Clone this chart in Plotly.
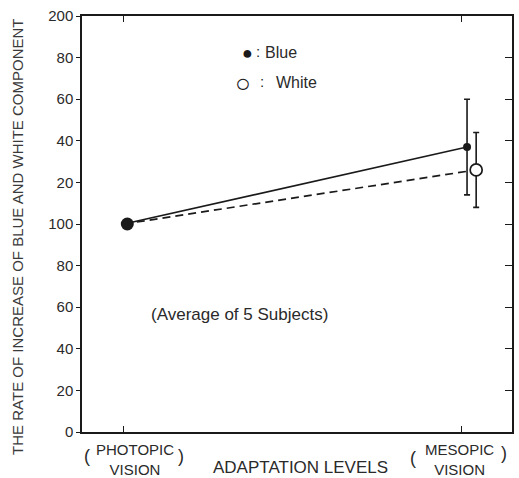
import plotly.graph_objects as go

# ---- data ----
levels = ["PHOTOPIC", "MESOPIC"]
level_pos = [1, 2]
blue_vals = [100, 137]
blue_err = [0, 23]
white_vals = [100, 126]
white_err = [0, 18]
y_tickvals = [0, 20, 40, 60, 80, 100, 120, 140, 160, 180, 200]
y_ticktext = ["0", "20", "40", "60", "80", "100", "20", "40", "60", "80", "200"]

INK = "#1a1a1a"
TXT = "#2a2a2a"
FONT = "Liberation Sans"

# small horizontal offsets so the two mesopic points don't overlap
blue_x = [level_pos[0], level_pos[1] + 0.015]
white_x = [level_pos[0], level_pos[1] + 0.042]

fig = go.Figure()

fig.add_trace(go.Scatter(
    x=white_x, y=white_vals, mode="lines",
    line=dict(color=INK, width=1.7, dash="8px,5px"), showlegend=False,
))
fig.add_trace(go.Scatter(
    x=blue_x, y=blue_vals, mode="lines",
    line=dict(color=INK, width=1.7), showlegend=False,
))
fig.add_trace(go.Scatter(
    x=blue_x[1:], y=blue_vals[1:], mode="markers",
    marker=dict(color=INK, size=8),
    error_y=dict(type="data", array=blue_err[1:], color=INK, thickness=1.6, width=3),
    showlegend=False,
))
fig.add_trace(go.Scatter(
    x=white_x[1:], y=white_vals[1:], mode="markers",
    marker=dict(color="white", size=12, line=dict(color=INK, width=1.7)),
    error_y=dict(type="data", array=white_err[1:], color=INK, thickness=1.6, width=3),
    showlegend=False,
))
fig.add_trace(go.Scatter(
    x=[level_pos[0] + 0.01], y=[blue_vals[0]], mode="markers",
    marker=dict(color=INK, size=13), showlegend=False,
))
# invisible trace for the right-side axis
fig.add_trace(go.Scatter(
    x=[level_pos[0]], y=[blue_vals[0]], yaxis="y2", mode="markers",
    marker=dict(opacity=0), showlegend=False, hoverinfo="skip",
))

fig.update_layout(
    width=519, height=478,
    margin=dict(l=82, r=7, t=12, b=46),
    paper_bgcolor="white", plot_bgcolor="white",
    font=dict(family=FONT, color=TXT, size=15),
    xaxis=dict(
        range=[0.876, 2.148], tickvals=level_pos, showticklabels=False,
        ticks="inside", ticklen=6, tickwidth=1.3, tickcolor=INK,
        showline=True, linecolor=INK, linewidth=1.5, mirror="ticks",
        showgrid=False, zeroline=False,
    ),
    yaxis=dict(
        range=[0, 200], tickvals=y_tickvals, ticktext=y_ticktext,
        ticks="outside", ticklen=4, tickwidth=1.3, tickcolor=INK,
        showline=True, linecolor=INK, linewidth=1.5,
        showgrid=False, zeroline=False, tickfont=dict(size=15, color=TXT),
    ),
    yaxis2=dict(
        range=[0, 200], tickvals=y_tickvals, overlaying="y", side="right",
        ticks="inside", ticklen=7, tickwidth=1.3, tickcolor=INK,
        showline=True, linecolor=INK, linewidth=1.5,
        showticklabels=False, showgrid=False, zeroline=False,
    ),
)

ann = []
# y-axis title
ann.append(dict(x=0, y=0.469, xref="paper", yref="paper", xanchor="center",
                yanchor="middle", xshift=-64, textangle=-90,
                text="THE RATE OF INCREASE OF BLUE AND WHITE COMPONENT",
                showarrow=False, font=dict(size=15, color="#3a3a3a")))
# x category labels
shifts = [11, -2]
for xv, name, sh in zip(level_pos, levels, shifts):
    ann.append(dict(x=xv, y=-0.066, xref="x", yref="paper", yanchor="middle",
                    xshift=sh, text=f"{name}<br>VISION", showarrow=False,
                    font=dict(size=15)))
# parentheses around the category labels
parens = [("(", 0.0105, -0.058), (")", 0.231, -0.058),
          ("(", 0.770, -0.063), (")", 0.981, -0.050)]
for ch, px, py in parens:
    ann.append(dict(x=px, y=py, xref="paper", yref="paper", xanchor="center",
                    yanchor="middle", text=ch, showarrow=False,
                    font=dict(size=18)))
ann.append(dict(x=0.507, y=-0.086, xref="paper", yref="paper", yanchor="middle",
                xanchor="center", text="ADAPTATION LEVELS", showarrow=False,
                font=dict(size=17)))
# legend text
ann.append(dict(x=0.386, y=0.912, xref="paper", yref="paper", xanchor="center",
                yanchor="middle", text="●", showarrow=False, font=dict(size=18, color=INK)))
ann.append(dict(x=0.410, y=0.914, xref="paper", yref="paper", xanchor="center",
                yanchor="middle", text=":", showarrow=False, font=dict(size=15)))
ann.append(dict(x=0.421, y=0.912, xref="paper", yref="paper", xanchor="left",
                yanchor="middle", text="Blue", showarrow=False, font=dict(size=16)))
ann.append(dict(x=0.374, y=0.840, xref="paper", yref="paper", xanchor="center",
                yanchor="middle", text="○", showarrow=False, font=dict(size=26, color=INK)))
ann.append(dict(x=0.419, y=0.842, xref="paper", yref="paper", xanchor="center",
                yanchor="middle", text=":", showarrow=False, font=dict(size=15)))
ann.append(dict(x=0.447, y=0.840, xref="paper", yref="paper", xanchor="left",
                yanchor="middle", text="White", showarrow=False, font=dict(size=16)))
ann.append(dict(x=0.367, y=0.283, xref="paper", yref="paper", xanchor="center",
                yanchor="middle", text="(Average of 5 Subjects)", showarrow=False,
                font=dict(size=17)))
fig.update_layout(annotations=ann)

fig.write_html("out.html")
